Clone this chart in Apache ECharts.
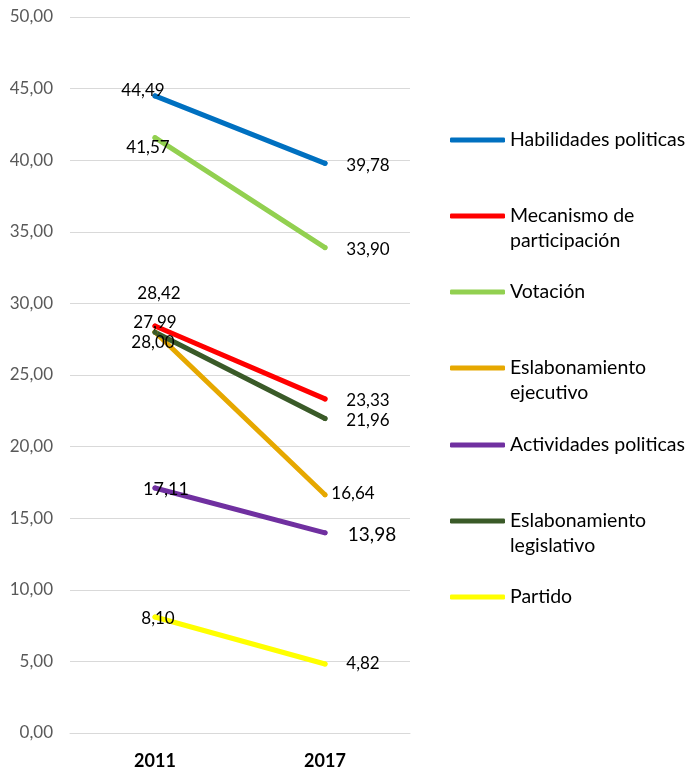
<!DOCTYPE html>
<html>
<head>
<meta charset="utf-8">
<script src="https://cdn.jsdelivr.net/npm/echarts@6/dist/echarts.min.js"></script>
<style>
  html, body { margin: 0; padding: 0; background: #ffffff; }
  #chart { width: 688px; height: 770px; }
</style>
</head>
<body>
<div id="chart"></div>
<script>
// Categories and values per indicator
const years = ['2011', '2017'];
const seriesNames = [
  'Habilidades politicas',
  'Mecanismo de participación',
  'Votación',
  'Eslabonamiento ejecutivo',
  'Actividades politicas',
  'Eslabonamiento legislativo',
  'Partido'
];
const habilidadesPoliticas = [44.49, 39.78];
const mecanismoParticipacion = [28.42, 23.33];
const votacion = [41.57, 33.90];
const eslabonamientoEjecutivo = [28.00, 16.64];
const actividadesPoliticas = [17.11, 13.98];
const eslabonamientoLegislativo = [27.99, 21.96];
const partido = [8.10, 4.82];
const yTicks = { min: 0, max: 50, interval: 5 };

// Legend text, split over lines
const legendLines = [
  ['Habilidades politicas'],
  ['Mecanismo de', 'participación'],
  ['Votación'],
  ['Eslabonamiento', 'ejecutivo'],
  ['Actividades politicas'],
  ['Eslabonamiento', 'legislativo'],
  ['Partido']
];

// Styling (kept apart from the values)
const colors = ['#0070C0', '#FF0000', '#92D050', '#E6A800', '#7030A0', '#3A5A28', '#FFFF00'];
const labelOffsets = [
  [[-12, -5], [43, 2]],
  [[4, -33], [43, 2]],
  [[-7, 10], [43, 2]],
  [[-2, 10], [28, -1]],
  [[11, 1], [47, 2]],
  [[0, -10], [43, 2]],
  [[3, 2], [38, 0]]
];
const labelSizes = [
  [17, 17], [17, 17], [17, 17], [17, 17], [18, 19], [17, 17], [17, 17]
];
// vertical centre of each legend icon
const legendIconY = [140, 216, 292, 368, 445, 521, 597];
const LEGEND_LH = 25;

const values = [
  habilidadesPoliticas, mecanismoParticipacion, votacion, eslabonamientoEjecutivo,
  actividadesPoliticas, eslabonamientoLegislativo, partido
];

const FONT = 'Lato, "Open Sans", sans-serif';
const fmt = v => v.toFixed(2).replace('.', ',');

const series = seriesNames.map((name, i) => ({
  name: name,
  type: 'line',
  data: values[i].map((v, j) => ({
    value: v,
    label: { offset: labelOffsets[i][j], fontSize: labelSizes[i][j] }
  })),
  color: colors[i],
  symbol: 'circle',
  symbolSize: 5,
  lineStyle: { width: 5, cap: 'round', color: colors[i] },
  itemStyle: { color: colors[i] },
  label: {
    show: true,
    position: 'inside',
    color: '#000000',
    fontFamily: FONT,
    fontSize: 17,
    formatter: p => fmt(p.value)
  },
  emphasis: { disabled: true },
  animation: false,
  z: 2
}));

// One legend per entry; multi-line entries get a blank leading line so the
// first text line sits level with the icon.
const legends = seriesNames.map((name, i) => {
  const lines = legendLines[i];
  const text = lines.length === 1 ? lines[0] : [' '].concat(lines).join('\n');
  const total = lines.length === 1 ? 1 : lines.length + 1;
  return {
    data: [name],
    left: 450,
    top: legendIconY[i] - (LEGEND_LH * total) / 2,
    orient: 'vertical',
    padding: 0,
    itemWidth: 55,
    itemHeight: 5,
    itemGap: 5,
    icon: 'roundRect',
    selectedMode: false,
    formatter: () => text,
    textStyle: {
      fontFamily: FONT,
      fontSize: 19.5,
      color: '#000000',
      lineHeight: LEGEND_LH
    }
  };
});

const chart = echarts.init(document.getElementById('chart'), null, { renderer: 'canvas' });
chart.setOption({
  animation: false,
  backgroundColor: '#ffffff',
  grid: { left: 70, right: 278, top: 17, bottom: 37, containLabel: false },
  legend: legends,
  xAxis: {
    type: 'category',
    data: years,
    boundaryGap: true,
    axisLine: { show: true, lineStyle: { color: '#D9D9D9', width: 1 } },
    axisTick: { show: false },
    axisLabel: {
      fontFamily: FONT,
      fontSize: 18,
      fontWeight: 'bold',
      color: '#000000',
      margin: 19
    }
  },
  yAxis: {
    type: 'value',
    min: yTicks.min,
    max: yTicks.max,
    interval: yTicks.interval,
    axisLine: { show: false },
    axisTick: { show: false },
    splitLine: { lineStyle: { color: '#D9D9D9', width: 1 } },
    axisLabel: {
      fontFamily: FONT,
      fontSize: 17,
      color: '#595959',
      margin: 17,
      formatter: v => fmt(v)
    }
  },
  series: series
});
</script>
</body>
</html>
